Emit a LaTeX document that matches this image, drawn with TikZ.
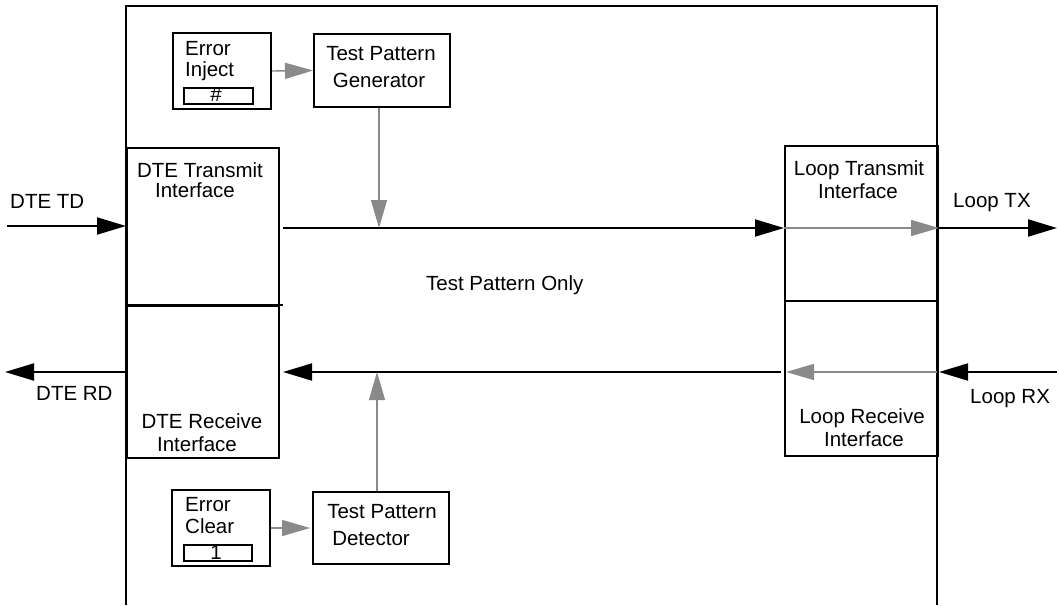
\documentclass[tikz,border=0pt]{standalone}
\usepackage{fontspec}
\setmainfont{Liberation Sans}
\usetikzlibrary{arrows.meta}
\definecolor{flowgray}{RGB}{138,138,138}
\begin{document}
\begin{tikzpicture}[x=1pt,y=-1pt,
  box/.style={draw=black,line width=2pt,rectangle,inner sep=0pt,anchor=north west},
  field/.style={draw=black,line width=1.6pt,rectangle,inner sep=0pt,anchor=north west},
  txt/.style={inner sep=0pt,anchor=base,font=\fontsize{20.5}{24}\selectfont},
  ltxt/.style={txt,anchor=base west},
  blackarrow/.style={draw=black,line width=2pt,-{Triangle[length=29pt,width=17pt]}},
  grayarrow/.style={draw=flowgray,line width=1.4pt,-{Triangle[length=28pt,width=16pt]}}]
\useasboundingbox (0,0) rectangle (1059,605);

% enclosing unit (open at the bottom)
\draw[line width=2pt] (126,605) -- (126,6) -- (937,6) -- (937,605);

% blocks
\node[box,minimum width=98pt,minimum height=76pt] (ei) at (172,32) {};
\node[field,minimum width=69pt,minimum height=16pt] (eif) at (183,87) {};
\node[box,minimum width=136pt,minimum height=73pt] (tpg) at (313,33) {};
\node[box,minimum width=152pt,minimum height=158pt] (dtetx) at (126,147) {};
\node[box,minimum width=152pt,minimum height=152pt] (dterx) at (126,305) {};
\node[box,minimum width=153pt,minimum height=155pt] (lptx) at (784,145) {};
\node[box,minimum width=153pt,minimum height=155pt] (lprx) at (784,300) {};
\node[box,minimum width=98pt,minimum height=76pt] (ec) at (171,489) {};
\node[field,minimum width=68pt,minimum height=16pt] (ecf) at (183,544) {};
\node[box,minimum width=136pt,minimum height=72pt] (tpd) at (312,491) {};
\draw[line width=2pt] (dterx.north west) -- ([xshift=3pt]dterx.north east);

% texts
\node[ltxt] (eiA) at (185,55) {Error};
\node[ltxt] (eiB) at (185,76) {Inject};
\node[txt] (eiC) at (216,101) {\#};
\node[txt] (tpgA) at (381,60) {Test Pattern};
\node[txt] (tpgB) at (379,87) {Generator};
\node[txt] (dtxA) at (200,177) {DTE Transmit};
\node[txt] (dtxB) at (195,197) {Interface};
\node[ltxt] (tdlab) at (10,208) {DTE TD};
\node[ltxt] (only) at (426,290) {Test Pattern Only};
\node[ltxt] (rdlab) at (36,400) {DTE RD};
\node[txt] (drxA) at (202,428) {DTE Receive};
\node[txt] (drxB) at (197,451) {Interface};
\node[ltxt] (ecA) at (185,511) {Error};
\node[ltxt] (ecB) at (185,533) {Clear};
\node[txt] (ecC) at (216,559) {1};
\node[txt] (tpdA) at (382,518) {Test Pattern};
\node[txt] (tpdB) at (371,545) {Detector};
\node[txt] (ltxA) at (859,175) {Loop Transmit};
\node[txt] (ltxB) at (858,198) {Interface};
\node[ltxt] (txlab) at (953,207) {Loop TX};
\node[ltxt] (rxlab) at (970,403) {Loop RX};
\node[txt] (lrxA) at (862,423) {Loop Receive};
\node[txt] (lrxB) at (864,446) {Interface};

% free ends of the signal paths
\coordinate (tdin) at (7,226);
\coordinate (topstart) at (283,228);
\coordinate (txout) at (1057,228);
\coordinate (rxin) at (1057,372);
\coordinate (botend) at (283,372);
\coordinate (rdout) at (5,372);

% transmit direction
\draw[blackarrow] (tdin) -- (tdin -| dtetx.west);
\draw[blackarrow] (topstart) -- (topstart -| lptx.west);
\draw[grayarrow] (topstart -| lptx.west) -- (topstart -| lptx.east);
\draw[blackarrow] (topstart -| lptx.east) -- (txout);

% receive direction
\draw[blackarrow] (rxin) -- (rxin -| lprx.east);
\draw[grayarrow] ([xshift=-2pt]rxin -| lprx.east) -- ([xshift=2pt]rxin -| lprx.west);
\draw[blackarrow] ([xshift=-3pt]rxin -| lprx.west) -- (botend);
\draw[blackarrow] (rdout -| dterx.west) -- (rdout);

% test pattern paths
\draw[grayarrow] (ei.east) -- (tpg.west);
\draw[grayarrow] ([xshift=-3pt]tpg.south) -- ([xshift=-3pt]tpg.south |- topstart);
\draw[grayarrow] (ec.east) -- ([xshift=-2pt]tpd.west);
\draw[grayarrow] ([xshift=-4pt]tpd.north) -- ([xshift=-4pt]tpd.north |- botend);
\end{tikzpicture}
\end{document}
